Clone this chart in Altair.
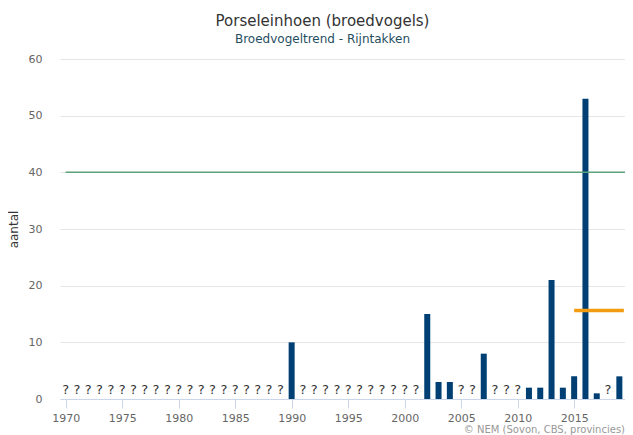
import altair as alt
import pandas as pd

years = list(range(1970, 2020))
counts = [None] * 20 + [10] + [None] * 11 + [
    15, 3, 3, None, None, 8, None, None, None, 2, 2, 21, 2, 4, 53, 1, None, 4
]
x_ticks = [1970, 1975, 1980, 1985, 1990, 1995, 2000, 2005, 2010, 2015]
y_ticks = [0, 10, 20, 30, 40, 50, 60]

target_value = [40]
target_span = [1970, 2019.5]
trend_value = [15.6]
trend_span = [2015, 2019.4]

credit_text = "© NEM (Sovon, CBS, provincies)"
title_text = "Porseleinhoen (broedvogels)"
subtitle_text = "Broedvogeltrend - Rijntakken"

FONT = "DejaVu Sans"

df = pd.DataFrame({"jaar": years, "aantal": counts})
known = df[df["aantal"].notna()]
unknown = df[df["aantal"].isna()].assign(q="?", zero=0)

xscale = alt.Scale(domain=[1969.5, 2019.5], nice=False, zero=False, padding=0)
yscale = alt.Scale(domain=[0, 60], nice=False, padding=0)

x_axis = alt.Axis(
    values=x_ticks, format="d", title=None, grid=False,
    domainColor="#ccd6eb", tickColor="#ccd6eb", tickSize=9,
    labelColor="#666666", labelFont=FONT, labelFontSize=11, labelPadding=4,
)
y_axis = alt.Axis(
    values=y_ticks, title="aantal", grid=True, gridColor="#e6e6e6",
    domain=False, ticks=False, labelColor="#666666", labelFont=FONT,
    labelFontSize=11, labelPadding=18, titleColor="#333333", titleFont=FONT,
    titleFontSize=12, titleFontWeight="normal", titlePadding=8,
)

bars = alt.Chart(known).mark_bar(size=6, color="#003f73").encode(
    x=alt.X("jaar:Q", scale=xscale, axis=x_axis),
    y=alt.Y("aantal:Q", scale=yscale, axis=y_axis),
)

qmarks = alt.Chart(unknown).mark_text(
    text="?", font=FONT, fontSize=13, color="#333333",
    baseline="alphabetic", dy=-5,
).encode(
    x=alt.X("jaar:Q", scale=xscale),
    y=alt.Y("zero:Q", scale=yscale),
)

target_df = pd.DataFrame({"y": target_value, "x1": [target_span[0]], "x2": [target_span[1]]})
target = alt.Chart(target_df).mark_rule(color="#5aa17a", strokeWidth=1.5).encode(
    x=alt.X("x1:Q", scale=xscale), x2="x2:Q", y=alt.Y("y:Q", scale=yscale)
)

trend_df = pd.DataFrame({"y": trend_value, "x1": [trend_span[0]], "x2": [trend_span[1]]})
trend = alt.Chart(trend_df).mark_rule(color="#f39c12", strokeWidth=3.5).encode(
    x=alt.X("x1:Q", scale=xscale), x2="x2:Q", y=alt.Y("y:Q", scale=yscale)
)

credit = alt.Chart(pd.DataFrame({"t": [credit_text]})).mark_text(
    font=FONT, fontSize=10, color="#999999", align="right", baseline="alphabetic"
).encode(text="t:N", x=alt.value(565), y=alt.value(374))

chart = alt.layer(bars, qmarks, target, trend, credit).properties(
    width=565,
    height=340,
    autosize=alt.AutoSizeParams(type="none"),
    padding={"left": 52, "top": 51, "right": 0, "bottom": 36},
    title=alt.TitleParams(
        text=title_text, subtitle=subtitle_text, anchor="middle",
        font=FONT, fontSize=15, fontWeight="normal", color="#333333",
        subtitleFont=FONT, subtitleFontSize=12, subtitleColor="#1f4e5f",
        subtitlePadding=5, offset=8, dx=-20,
    ),
).configure_view(stroke=None)

chart.save("out.html", embed_options={"renderer": "svg", "actions": False})
